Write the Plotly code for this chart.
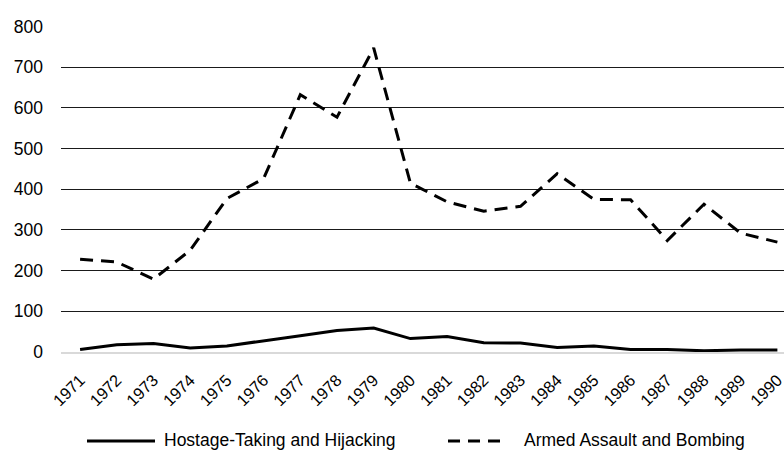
import plotly.graph_objects as go

years = [str(y) for y in range(1971, 1991)]
hostage = [6, 18, 21, 10, 15, 27, 40, 53, 59, 33, 38, 23, 22, 11, 15, 6, 6, 3, 5, 5]
armed = [228, 221, 179, 250, 377, 426, 632, 577, 747, 415, 369, 346, 358, 438, 375, 374, 274, 363, 292, 270]
series_names = ["Hostage-Taking and Hijacking", "Armed Assault and Bombing"]
y_ticks = [0, 100, 200, 300, 400, 500, 600, 700, 800]

FONT = "Liberation Sans, Arial, sans-serif"

fig = go.Figure()
fig.add_trace(go.Scatter(x=years, y=hostage, mode="lines", name=series_names[0],
                         line=dict(color="black", width=3), showlegend=False))
fig.add_trace(go.Scatter(x=years, y=armed, mode="lines", name=series_names[1],
                         line=dict(color="black", width=3, dash="13px,8px"), showlegend=False))

W, H = 784, 458
ml, mr, mt, mb = 61, 0, 26, 106
pw, ph = W - ml - mr, H - mt - mb

def px(x):
    return (x - ml) / pw

def py(y):
    return (H - mb - y) / ph

leg_y = py(441)
fig.add_shape(type="line", xref="paper", yref="paper", x0=px(87), x1=px(155), y0=leg_y, y1=leg_y,
              line=dict(color="black", width=3))
fig.add_shape(type="line", xref="paper", yref="paper", x0=px(448), x1=px(507), y0=leg_y, y1=leg_y,
              line=dict(color="black", width=3, dash="12px,8px"))
fig.add_annotation(xref="paper", yref="paper", x=px(162), y=py(440), text=series_names[0],
                   showarrow=False, xanchor="left", yanchor="middle",
                   font=dict(family=FONT, size=17.5, color="black"))
fig.add_annotation(xref="paper", yref="paper", x=px(522), y=py(440), text=series_names[1],
                   showarrow=False, xanchor="left", yanchor="middle",
                   font=dict(family=FONT, size=17.5, color="black"))

fig.update_layout(
    width=W, height=H,
    margin=dict(l=ml, r=mr, t=mt, b=mb),
    plot_bgcolor="white", paper_bgcolor="white",
    font=dict(family=FONT, size=17, color="black"),
)
fig.update_xaxes(type="category", range=[-0.52, 19.18], tickangle=-45,
                 showgrid=False, showline=True, linecolor="#d9d9d9", linewidth=2,
                 ticks="", ticklabelstandoff=10,
                 tickfont=dict(family=FONT, size=16.5, color="black"))
fig.update_yaxes(range=[0, 801], tickvals=y_ticks, showgrid=True, gridcolor="#1a1a1a", gridwidth=1,
                 zeroline=False, showline=False, ticks="", ticklabelstandoff=17,
                 tickfont=dict(family=FONT, size=17.5, color="black"))

fig.write_html("out.html", config={"displayModeBar": False},
               post_script="document.body.style.margin='0';document.body.style.overflow='hidden';")
